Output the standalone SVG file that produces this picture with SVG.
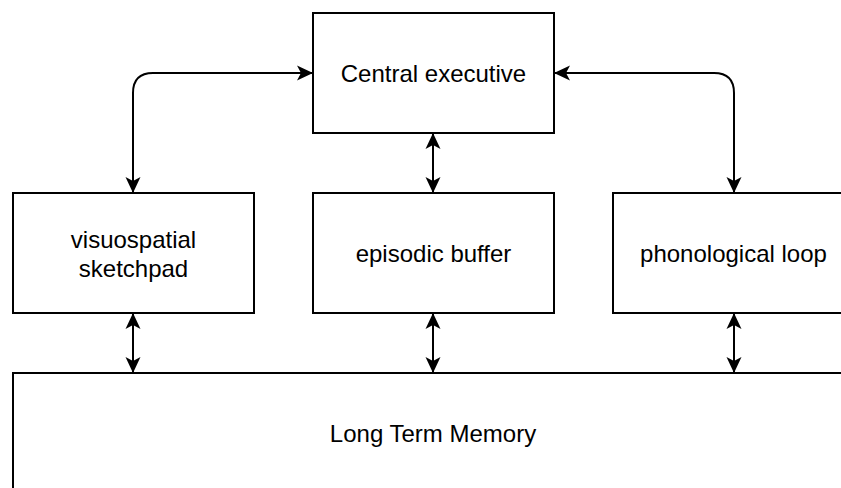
<svg xmlns="http://www.w3.org/2000/svg" width="841" height="488" viewBox="0 0 841 488">
<style>
.box{fill:#fff;stroke:#000;stroke-width:2}
.lbl{font-family:"Liberation Sans",Arial,sans-serif;font-size:24px;fill:#000;text-anchor:middle}
.edge{fill:none;stroke:#000;stroke-width:2}
</style>
<defs>
<marker id="ah" viewBox="-16 -8 16 16" refX="0" refY="0" markerWidth="16" markerHeight="16" markerUnits="userSpaceOnUse" orient="auto-start-reverse">
<path d="M0,0 L-16,-7.5 L-12,0 L-16,7.5 Z" fill="#000"/>
</marker>
</defs>
<rect width="841" height="488" fill="#fff"/>
<g id="central-executive">
<rect class="box" x="313" y="13" width="241" height="120"/>
<text class="lbl" x="433.5" y="82">Central executive</text>
</g>
<g id="visuospatial-sketchpad">
<rect class="box" x="13" y="193" width="241" height="120"/>
<text class="lbl" x="133.5" y="248">visuospatial</text>
<text class="lbl" x="133.5" y="277">sketchpad</text>
</g>
<g id="episodic-buffer">
<rect class="box" x="313" y="193" width="241" height="120"/>
<text class="lbl" x="433.5" y="262">episodic buffer</text>
</g>
<g id="phonological-loop">
<rect class="box" x="613" y="193" width="241" height="120"/>
<text class="lbl" x="733.5" y="262">phonological loop</text>
</g>
<g id="long-term-memory">
<rect class="box" x="13" y="373" width="841" height="120"/>
<text class="lbl" x="433" y="442">Long Term Memory</text>
</g>
<g id="connectors">
<path class="edge" d="M133,193 V93 Q133,73 153,73 H313" marker-start="url(#ah)" marker-end="url(#ah)"/>
<path class="edge" d="M554,73 H714 Q734,73 734,93 V193" marker-start="url(#ah)" marker-end="url(#ah)"/>
<path class="edge" d="M433,133 V193" marker-start="url(#ah)" marker-end="url(#ah)"/>
<path class="edge" d="M133,313 V373" marker-start="url(#ah)" marker-end="url(#ah)"/>
<path class="edge" d="M433,313 V373" marker-start="url(#ah)" marker-end="url(#ah)"/>
<path class="edge" d="M734,313 V373" marker-start="url(#ah)" marker-end="url(#ah)"/>
</g>
</svg>
